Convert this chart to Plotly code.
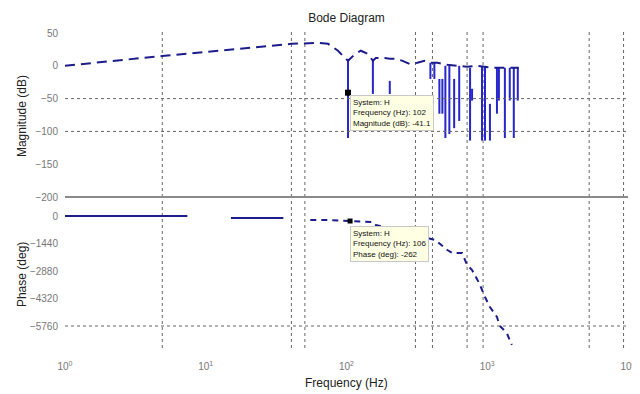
import plotly.graph_objects as go

# ---------------- data ----------------
# Magnitude envelope (dashed)
mag_freq = [1, 4.9, 40.6, 63, 74, 87, 94.5, 102.5, 115, 126.5,
            142, 154, 161.5, 187, 203, 223.5, 250.5, 280.5, 319, 358,
            394.5, 442.6, 520, 632, 719, 847, 996, 1081, 1675]
mag_db = [0, 15, 33.5, 35, 33.5, 23, 15, 7.6, 18, 23,
          18, 7.6, 12, 12, 10.7, 10.7, 7.6, 3, 4.6, 7.6,
          4.6, 4.6, 1.5, 0, -1.5, 0, -1.5, -3, -3]

# Magnitude notches (vertical drops)
notch_freq = [102.5, 154, 203, 394.5, 421, 457, 480, 504, 538, 582,
              632, 755, 780, 918, 964, 1045, 1172, 1210, 1334, 1445, 1544, 1648]
notch_top = [7.6, 7.6, -23, 4.6, 4.6, -20, -20, 0, 0, -20,
             0, -3, -35, -1.5, -1.5, -58, -3, -3, -3, -3, -3, -3]
notch_bottom = [-110, -43, -43, -20, -20, -73, -73, -110, -104, -95,
                -84, -114, -53, -114, -114, -114, -73, -53, -110, -53, -110, -53]

# Phase: solid pieces
phase_seg1_freq = [1, 7.4]
phase_seg1_deg = [0, 0]
phase_seg2_freq = [15.1, 35.6]
phase_seg2_deg = [-105, -105]
# Phase: dashed roll-off
phase_freq = [55.3, 74, 106, 154, 161.5, 428, 520, 564, 663, 719,
              780, 875, 964, 1045, 1172, 1230, 1377, 1496]
phase_deg = [-209, -209, -262, -314, -470, -1257, -1780, -1937, -1937, -2566,
             -2827, -3508, -4241, -4765, -5288, -5760, -6126, -6754]

# Data tips
tip_mag = (102.5, -41)
tip_phase = (106, -262)
tip_mag_text = ["System: H", "Frequency (Hz): 102", "Magnitude (dB): -41.1"]
tip_phase_text = ["System: H", "Frequency (Hz): 106", "Phase (deg): -262"]

# Grid
vgrid_freq = [4.91, 40.6, 50.6, 309, 408, 719, 934, 5300, 9300]
mag_hgrid = [-50, -100]
phase_hgrid = [-5760]

mag_ticks = [50, 0, -50, -100, -150, -200]
phase_ticks = [0, -1440, -2880, -4320, -5760]
freq_ticks = [1, 10, 100, 1000, 10000]
freq_ticktext = ["10<sup>0</sup>", "10<sup>1</sup>", "10<sup>2</sup>",
                 "10<sup>3</sup>", "10<sup>4</sup>"]

MAG_RANGE = [-200, 54.6]
PH_RANGE = [-6912, 995]
SPLIT = 0.4748

FONT = "Liberation Sans, Arial, sans-serif"
NAVY = "#1c1c8c"
BLUE = "#2626cc"

fig = go.Figure()

# vertical grid lines (both panels)
gx, gy1, gy2 = [], [], []
for f in vgrid_freq:
    gx += [f, f, None]
    gy1 += [MAG_RANGE[0], MAG_RANGE[1], None]
    gy2 += [PH_RANGE[0], PH_RANGE[1], None]
fig.add_trace(go.Scatter(x=gx, y=gy1, mode="lines", xaxis="x", yaxis="y",
                         line=dict(color="#666", width=1, dash="dot"), hoverinfo="skip"))
fig.add_trace(go.Scatter(x=gx, y=gy2, mode="lines", xaxis="x", yaxis="y2",
                         line=dict(color="#666", width=1, dash="dot"), hoverinfo="skip"))

# magnitude
nx, ny = [], []
for f, t, b in zip(notch_freq, notch_top, notch_bottom):
    nx += [f, f, None]
    ny += [t, b, None]
fig.add_trace(go.Scatter(x=nx, y=ny, mode="lines", xaxis="x", yaxis="y",
                         line=dict(color=BLUE, width=2)))
fig.add_trace(go.Scatter(x=mag_freq, y=mag_db, mode="lines", xaxis="x", yaxis="y",
                         line=dict(color=NAVY, width=2, dash="10px,6px")))

# phase
fig.add_trace(go.Scatter(x=phase_seg1_freq, y=phase_seg1_deg, mode="lines", xaxis="x", yaxis="y2",
                         line=dict(color=NAVY, width=2)))
fig.add_trace(go.Scatter(x=phase_seg2_freq, y=phase_seg2_deg, mode="lines", xaxis="x", yaxis="y2",
                         line=dict(color=NAVY, width=2)))
fig.add_trace(go.Scatter(x=phase_freq, y=phase_deg, mode="lines", xaxis="x", yaxis="y2",
                         line=dict(color=NAVY, width=2, dash="6px,5px")))

# data tip markers
fig.add_trace(go.Scatter(x=[tip_mag[0]], y=[tip_mag[1]], mode="markers", xaxis="x", yaxis="y",
                         marker=dict(symbol="square", size=6, color="black")))
fig.add_trace(go.Scatter(x=[tip_phase[0]], y=[tip_phase[1]], mode="markers", xaxis="x", yaxis="y2",
                         marker=dict(symbol="square", size=5, color="black")))

shapes = []
for v in mag_hgrid:
    shapes.append(dict(type="line", xref="paper", x0=0, x1=1, yref="y", y0=v, y1=v,
                       line=dict(color="#666", width=1, dash="dot")))
for v in phase_hgrid:
    shapes.append(dict(type="line", xref="paper", x0=0, x1=1, yref="y2", y0=v, y1=v,
                       line=dict(color="#666", width=1, dash="dot")))
shapes.append(dict(type="line", xref="paper", x0=0, x1=1, yref="paper", y0=SPLIT, y1=SPLIT,
                   line=dict(color="#8a8a8a", width=2)))

tipstyle = dict(xref="paper", yref="paper", xanchor="left", yanchor="top", align="left",
                showarrow=False, bgcolor="#ffffe4", bordercolor="#c8c8c8", borderwidth=1,
                borderpad=2, font=dict(family=FONT, size=8, color="#111"))
annotations = [
    dict(text="<br>".join(tip_mag_text), x=0.506, y=0.796, **tipstyle),
    dict(text="<br>".join(tip_phase_text), x=0.506, y=0.384, **tipstyle),
    dict(text="Magnitude (dB)", xref="paper", yref="paper", x=-0.076, y=0.73,
         xanchor="center", yanchor="middle",
         textangle=-90, showarrow=False, font=dict(family=FONT, size=12, color="#222")),
    dict(text="Phase (deg)", xref="paper", yref="paper", x=-0.076, y=0.23,
         xanchor="center", yanchor="middle",
         textangle=-90, showarrow=False, font=dict(family=FONT, size=12, color="#222")),
    dict(text="Frequency (Hz)", xref="paper", yref="paper", x=0.5, y=-0.11,
         yanchor="middle", showarrow=False, font=dict(family=FONT, size=12, color="#222")),
]

# The page adds an 8px body margin, so margins are shifted by 8px to compensate.
fig.update_layout(
    width=640, height=394,
    margin=dict(l=57, r=16, t=22, b=54),
    paper_bgcolor="white", plot_bgcolor="white",
    showlegend=False,
    title=dict(text="Bode Diagram", x=0.5, xref="paper", y=1 - 10 / 394, yanchor="middle",
               font=dict(family=FONT, size=12, color="#222")),
    xaxis=dict(type="log", range=[0, 4], domain=[0, 1], anchor="y2",
               tickvals=freq_ticks, ticktext=freq_ticktext, showgrid=False, zeroline=False,
               showline=False, ticks="", ticklabelstandoff=11,
               tickfont=dict(family=FONT, size=10, color="#777")),
    yaxis=dict(domain=[SPLIT, 1], range=MAG_RANGE, anchor="x", tickvals=mag_ticks,
               showgrid=False, zeroline=False, showline=False, ticks="", ticklabelstandoff=6,
               tickfont=dict(family=FONT, size=10, color="#777")),
    yaxis2=dict(domain=[0, SPLIT], range=PH_RANGE, anchor="x", tickvals=phase_ticks,
                showgrid=False, zeroline=False, showline=False, ticks="", ticklabelstandoff=6,
                tickfont=dict(family=FONT, size=10, color="#777")),
    shapes=shapes,
    annotations=annotations,
)

fig.write_html("out.html")
